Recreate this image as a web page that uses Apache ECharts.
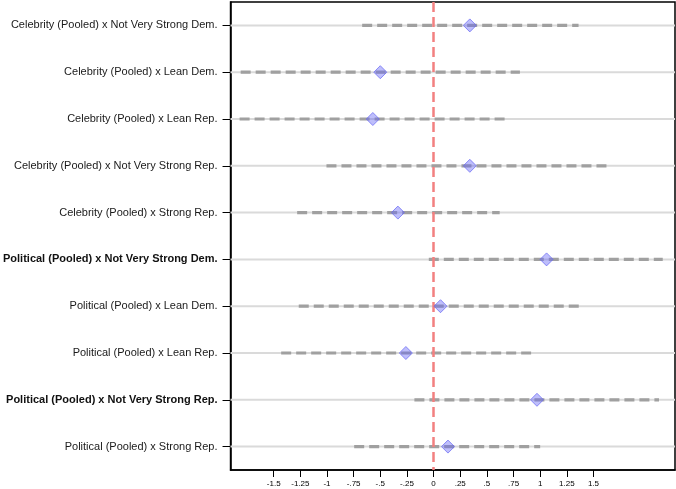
<!DOCTYPE html>
<html>
<head>
<meta charset="utf-8">
<script src="https://cdn.jsdelivr.net/npm/echarts@6/dist/echarts.min.js"></script>
<style>
  html, body { margin: 0; padding: 0; background: #fff; }
  #main { width: 676px; height: 489px; }
</style>
</head>
<body>
<div id="main"></div>
<script>
var labels = [
  'Celebrity (Pooled) x Not Very Strong Dem.',
  'Celebrity (Pooled) x Lean Dem.',
  'Celebrity (Pooled) x Lean Rep.',
  'Celebrity (Pooled) x Not Very Strong Rep.',
  'Celebrity (Pooled) x Strong Rep.',
  'Political (Pooled) x Not Very Strong Dem.',
  'Political (Pooled) x Lean Dem.',
  'Political (Pooled) x Lean Rep.',
  'Political (Pooled) x Not Very Strong Rep.',
  'Political (Pooled) x Strong Rep.'
];
var boldRows = [5, 8];
var estimates = [0.34, -0.50, -0.57, 0.34, -0.335, 1.06, 0.065, -0.26, 0.97, 0.135];
var ciLow = [-0.67, -1.81, -1.82, -1.005, -1.28, -0.045, -1.265, -1.43, -0.18, -0.745];
var ciHigh = [1.36, 0.81, 0.675, 1.635, 0.62, 2.15, 1.375, 0.915, 2.115, 1.0];
var xTicks = [-1.5, -1.25, -1, -0.75, -0.5, -0.25, 0, 0.25, 0.5, 0.75, 1, 1.25, 1.5];

function fmtTick(v) {
  var s = String(v);
  return s.replace(/^0\./, '.').replace(/^-0\./, '-.');
}

var chart = echarts.init(document.getElementById('main'));

var ciData = labels.map(function (l, i) { return [i, ciLow[i], ciHigh[i]]; });
var estData = labels.map(function (l, i) { return [estimates[i], i]; });

var option = {
  animation: false,
  grid: { left: 230, right: 1, top: 2, bottom: 19, show: true, borderColor: '#000', borderWidth: 1.5 },
  xAxis: {
    type: 'value',
    min: -1.905,
    max: 2.265,
    splitLine: { show: false },
    axisLine: { show: true, onZero: false, lineStyle: { color: '#000', width: 1.5 } },
    axisTick: { show: true, length: 7, inside: false, customValues: xTicks, lineStyle: { color: '#000' } },
    axisLabel: {
      customValues: xTicks,
      fontSize: 8,
      color: '#000',
      fontFamily: 'Liberation Sans, Arial, sans-serif',
      margin: 10,
      formatter: fmtTick
    }
  },
  yAxis: {
    type: 'category',
    data: labels,
    inverse: true,
    axisLine: { show: true, onZero: false, lineStyle: { color: '#000', width: 1.5 } },
    axisTick: { show: true, length: 8, alignWithLabel: true, lineStyle: { color: '#000' } },
    splitLine: { show: false },
    axisLabel: {
      margin: 13,
      fontSize: 11,
      color: '#1a1a1a',
      fontFamily: 'Liberation Sans, Arial, sans-serif',
      formatter: function (v, i) {
        return boldRows.indexOf(i) >= 0 ? '{b|' + v + '}' : v;
      },
      rich: {
        b: { fontWeight: 'bold', fontSize: 11, color: '#111', fontFamily: 'Liberation Sans, Arial, sans-serif' }
      }
    }
  },
  series: [
    {
      type: 'custom',
      z: 2,
      dimensions: ['row', 'lo', 'hi'],
      encode: { y: 0, x: [1, 2] },
      data: ciData,
      renderItem: function (params, api) {
        var row = api.value(0);
        var a = api.coord([api.value(1), row]);
        var b = api.coord([api.value(2), row]);
        var cs = params.coordSys;
        return {
          type: 'group',
          children: [
            {
              type: 'line',
              shape: { x1: cs.x, y1: a[1], x2: cs.x + cs.width, y2: a[1] },
              style: { stroke: '#dadada', lineWidth: 2 }
            },
            {
              type: 'line',
              shape: { x1: a[0], y1: a[1], x2: b[0], y2: b[1] },
              style: { stroke: '#a0a0a0', lineWidth: 3.2, lineDash: [10, 5] }
            }
          ]
        };
      }
    },
    {
      type: 'scatter',
      z: 5,
      symbol: 'diamond',
      symbolSize: [13, 13],
      data: estData,
      itemStyle: {
        color: 'rgba(100, 100, 245, 0.42)',
        borderColor: 'rgba(100, 100, 245, 0.7)',
        borderWidth: 1,
        opacity: 1
      },
      markLine: {
        silent: true,
        symbol: 'none',
        z: 3,
        label: { show: false },
        lineStyle: { color: '#f28080', width: 2.5, type: [10, 5] },
        data: [{ xAxis: 0 }]
      }
    }
  ]
};

chart.setOption(option);
</script>
</body>
</html>
